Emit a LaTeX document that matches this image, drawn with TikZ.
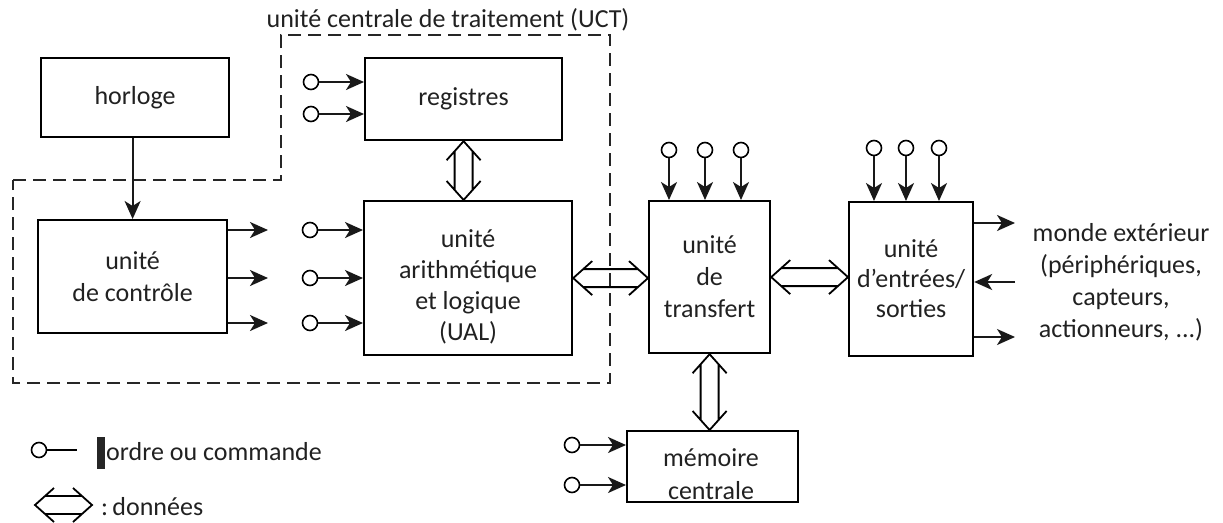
\documentclass[tikz,border=0pt]{standalone}
\usepackage{fontspec}
\setmainfont{Carlito}
\usetikzlibrary{arrows.meta,calc}
\begin{document}
\begin{tikzpicture}[x=1pt,y=-1pt,
  box/.style={draw,line width=2.2pt,anchor=north west,align=center,inner sep=0pt},
  txt/.style={font=\fontsize{26}{32}\selectfont,text=black!87},
  arr/.style={line width=2pt,black!90,-{Stealth[length=18pt,width=16pt,inset=5pt]}},
  ordc/.style={circle,draw,line width=1.6pt,minimum size=15pt,inner sep=0pt},
  uctline/.style={line width=1.8pt,black!85,dash pattern=on 13pt off 7pt},
  data/.style={line width=1.8pt,to path={
    ($(\tikztostart)!19pt!(\tikztotarget)!17pt!90:(\tikztotarget)$) -- (\tikztostart)
      -- ($(\tikztostart)!19pt!(\tikztotarget)!17pt!-90:(\tikztotarget)$)
    ($(\tikztotarget)!19pt!(\tikztostart)!17pt!90:(\tikztostart)$) -- (\tikztotarget)
      -- ($(\tikztotarget)!19pt!(\tikztostart)!17pt!-90:(\tikztostart)$)
    ($(\tikztostart)!10pt!(\tikztotarget)!9pt!90:(\tikztotarget)$)
      -- ($(\tikztotarget)!10pt!(\tikztostart)!9pt!-90:(\tikztostart)$)
    ($(\tikztostart)!10pt!(\tikztotarget)!9pt!-90:(\tikztotarget)$)
      -- ($(\tikztotarget)!10pt!(\tikztostart)!9pt!90:(\tikztostart)$)
  }}]
\useasboundingbox (0,0) rectangle (1223,522);

% dashed UCT boundary
\draw[uctline] (13,180) -- (281,180) -- (281,35) -- (610,35) -- (610,383) -- (13,383) -- cycle;
\node[txt] (uct) at (448,20) {unité centrale de traitement (UCT)};

% boxes
\node[box,txt,minimum width=188pt,minimum height=79pt] (horl) at (40,57) {horloge};
\node[box,txt,minimum width=189pt,minimum height=113pt] (ctrl) at (37,219) {unité\\de contrôle};
\node[box,txt,minimum width=197pt,minimum height=82pt] (reg) at (364,57) {registres};
\node[box,minimum width=208pt,minimum height=154pt] (ual) at (363,200) {};
\node[txt,align=center,font=\fontsize{26}{31}\selectfont] (ualt) at ($(ual.center)+(0,9)$) {unité\\arithmétique\\et logique\\(UAL)};
\node[box,txt,minimum width=121pt,minimum height=152pt] (tr) at (648,200) {unité\\de\\transfert};
\node[box,txt,minimum width=124pt,minimum height=154pt,font=\fontsize{26}{30}\selectfont] (es) at (848,201) {unité\\d'entrées/\\sorties};
\node[box,minimum width=171pt,minimum height=71pt] (mem) at (626,430) {};
\node[txt,align=center,font=\fontsize{26}{33}\selectfont] (memt) at (711,474) {mémoire\\centrale};
\node[txt,align=center] (monde) at (1121,282) {monde extérieur\\(périphériques,\\capteurs,\\actionneurs, ...)};

% clock -> control
\draw[arr] (horl.south -| ctrl.north) -- (ctrl.north);

% control outputs
\coordinate (co1) at (268,230);
\coordinate (co2) at (268,278);
\coordinate (co3) at (268,323);
\draw[arr] (co1 -| ctrl.east) -- (co1);
\draw[arr] (co2 -| ctrl.east) -- (co2);
\draw[arr] (co3 -| ctrl.east) -- (co3);

% UAL orders
\node[ordc] (u1) at (310,230) {};
\node[ordc] (u2) at (310,278) {};
\node[ordc] (u3) at (310,323) {};
\foreach \c in {u1,u2,u3} \draw[arr] (\c.east) -- (\c.east -| ual.west);

% register orders
\node[ordc] (r1) at (311,82) {};
\node[ordc] (r2) at (311,114) {};
\foreach \c in {r1,r2} \draw[arr] (\c.east) -- (\c.east -| reg.west);

% transfer orders
\node[ordc] (t1) at (669,150) {};
\node[ordc] (t2) at (705,150) {};
\node[ordc] (t3) at (741,150) {};
\foreach \c in {t1,t2,t3} \draw[arr] (\c.south) -- (\c.south |- tr.north);

% I/O orders
\node[ordc] (e1) at (874,148) {};
\node[ordc] (e2) at (906,148) {};
\node[ordc] (e3) at (939,148) {};
\foreach \c in {e1,e2,e3} \draw[arr] (\c.south) -- (\c.south |- es.north);

% memory orders
\node[ordc] (m1) at (572,445) {};
\node[ordc] (m2) at (572,485) {};
\foreach \c in {m1,m2} \draw[arr] (\c.east) -- (\c.east -| mem.west);

% outside world
\coordinate (w1) at (1015,223);
\coordinate (w2) at (1015,282);
\coordinate (w3) at (1015,337);
\draw[arr] (w1 -| es.east) -- (w1);
\draw[arr] (w2) -- (w2 -| es.east);
\draw[arr] (w3 -| es.east) -- (w3);

% data
\draw[data] (reg.south) to (reg.south |- ual.north);
\draw[data] (ual.east) to (ual.east -| tr.west);
\draw[data] (tr.east) to (tr.east -| es.west);
\draw[data] (tr.south) to (tr.south |- mem.north);

% legend
\node[ordc] (lc) at (39,450) {};
\coordinate (ll) at (77,450);
\draw[line width=1.6pt] (lc.east) -- (ll);
\fill[black!85] (97,437) rectangle (105,469);
\node[txt,anchor=west,inner sep=0pt] (lord) at (106,452) {ordre ou commande};
\coordinate (la) at (35,505);
\coordinate (lb) at (92,505);
\draw[data] (la) to (lb);
\node[txt,anchor=west,inner sep=0pt] (ldon) at (101,507) {:\,données};
\end{tikzpicture}
\end{document}
